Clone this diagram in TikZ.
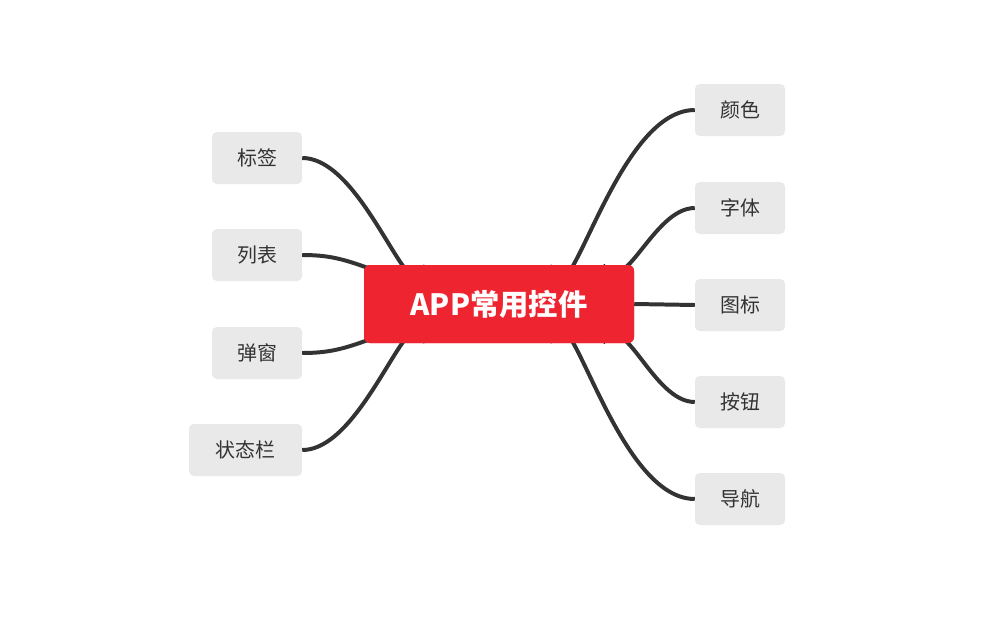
\documentclass[tikz,border=0pt]{standalone}
\usepackage{fontspec}
\setmainfont{Noto Sans CJK SC}
\begin{document}
\begin{tikzpicture}[x=0.3mm,y=-0.3mm,
  leaf/.style={fill=leafgray,rounded corners=4pt,minimum width=27mm,minimum height=15.6mm,inner sep=0pt,font=\fontsize{17}{20}\selectfont,text=black!80},
  root/.style={fill=rootred,rounded corners=5pt,minimum width=81mm,minimum height=23.4mm,inner sep=0pt,text=white,font=\fontsize{25}{30}\selectfont\bfseries},
  link/.style={draw=linkgray,line width=3.4pt}]
\definecolor{leafgray}{HTML}{E9E9E9}
\definecolor{rootred}{HTML}{EE2530}
\definecolor{linkgray}{HTML}{333333}
\useasboundingbox (0,0) rectangle (1000,618);
\node[root] (c) at (499,304) {APP常用控件};
\node[leaf] (r1) at (740,110) {颜色};
\node[leaf] (r2) at (740,208) {字体};
\node[leaf] (r3) at (740,305) {图标};
\node[leaf] (r4) at (740,402) {按钮};
\node[leaf] (r5) at (740,499) {导航};
\node[leaf] (l1) at (257,158) {标签};
\node[leaf] (l2) at (257,255) {列表};
\node[leaf] (l3) at (257,353) {弹窗};
\node[leaf,minimum width=33.9mm] (l4) at (245.5,450) {状态栏};
\coordinate (a1) at (550,265);
\coordinate (a2) at (603,265);
\coordinate (a4) at (603,343);
\coordinate (a5) at (550,343);
\coordinate (b1) at (425,265);
\coordinate (b2) at (368,268);
\coordinate (b3) at (368,340);
\coordinate (b4) at (425,343);
\begin{scope}[on background layer/.style={}]
\draw[link] (a1) to[out=-80,in=180] (r1.west);
\draw[link] (a2) to[out=-60,in=180] (r2.west);
\draw[link] (c.east) -- (r3.west);
\draw[link] (a4) to[out=60,in=180] (r4.west);
\draw[link] (a5) to[out=80,in=180] (r5.west);
\draw[link] (b1) to[out=-100,in=0] (l1.east);
\draw[link] (b2) to[out=160,in=0] (l2.east);
\draw[link] (b3) to[out=-160,in=0] (l3.east);
\draw[link] (b4) to[out=100,in=0] (l4.east);
\end{scope}
\node[root] at (c) {APP常用控件};
\end{tikzpicture}
\end{document}
